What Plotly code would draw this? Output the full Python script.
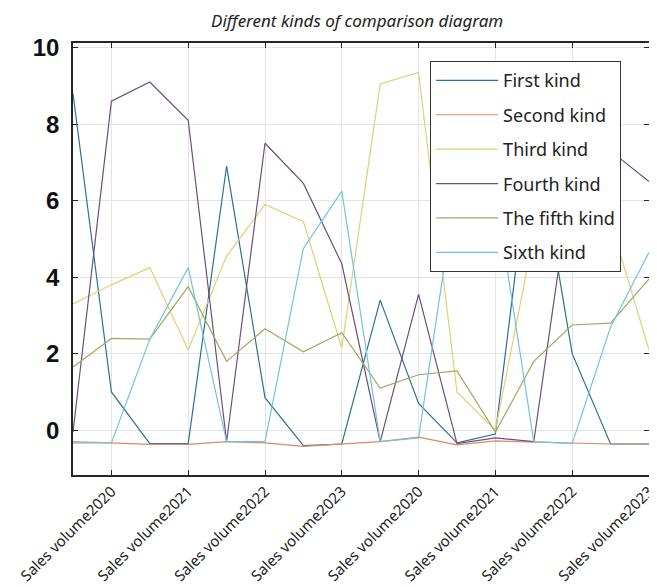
import plotly.graph_objects as go

x_points = list(range(1, 17))
tick_positions = [2, 4, 6, 8, 10, 12, 14, 16]
tick_labels = ["Sales volume2020", "Sales volume2021", "Sales volume2022", "Sales volume2023",
               "Sales volume2020", "Sales volume2021", "Sales volume2022", "Sales volume2023"]

series_names = ["First kind", "Second kind", "Third kind", "Fourth kind", "The fifth kind", "Sixth kind"]

first_kind = [8.8, 1.0, -0.35, -0.35, 6.9, 0.85, -0.4, -0.36, 3.4, 0.7, -0.33, -0.1, 8.0, 2.0, -0.36, -0.36]
second_kind = [-0.33, -0.33, -0.37, -0.37, -0.3, -0.33, -0.42, -0.36, -0.3, -0.18, -0.38, -0.28, -0.31, -0.33, -0.36, -0.36]
third_kind = [3.3, 3.8, 4.25, 2.1, 4.55, 5.9, 5.45, 2.15, 9.05, 9.35, 1.0, 0.0, 5.1, 5.8, 5.45, 2.1]
fourth_kind = [-0.05, 8.6, 9.1, 8.1, -0.3, 7.5, 6.45, 4.35, -0.3, 3.55, -0.35, -0.2, -0.3, 6.7, 7.3, 6.5]
fifth_kind = [1.65, 2.4, 2.38, 3.75, 1.8, 2.65, 2.05, 2.55, 1.1, 1.45, 1.55, -0.05, 1.8, 2.75, 2.8, 3.95]
sixth_kind = [-0.3, -0.33, 2.38, 4.25, -0.3, -0.3, 4.75, 6.25, -0.3, -0.2, 6.5, 6.2, -0.3, -0.35, 2.7, 4.65]

all_series = [first_kind, second_kind, third_kind, fourth_kind, fifth_kind, sixth_kind]
colors = ["#2a7294", "#d98a66", "#e2d070", "#6f4d80", "#9caa62", "#70c4de"]

hand_font = "Segoe Print, Comic Sans MS, Noto Sans, sans-serif"

fig = go.Figure()
for name, vals, col in zip(series_names, all_series, colors):
    fig.add_trace(go.Scatter(
        x=x_points, y=vals, mode="lines", name=name,
        line=dict(color=col, width=1.2), legendgroup=name,
    ))

# page body has an 8px margin, so the figure is sized 649x579
fig.update_layout(
    width=649, height=579,
    margin=dict(l=65, r=8, t=35, b=112, autoexpand=False),
    paper_bgcolor="white", plot_bgcolor="white",
    title=dict(text="Different kinds of comparison diagram", x=0.538, xanchor="center",
               y=0.978, yref="container", yanchor="middle",
               font=dict(family=hand_font, size=17, color="#222222", style="italic")),
    legend=dict(x=0.62, y=0.958, xanchor="left", yanchor="top",
                bgcolor="white", bordercolor="#333333", borderwidth=1,
                font=dict(family=hand_font, size=18, color="#222222"),
                tracegroupgap=8, itemwidth=62),
    showlegend=True,
)

fig.update_xaxes(
    range=[0.9999, 16.0005], tickmode="array", tickvals=tick_positions, ticktext=tick_labels,
    tickangle=-45, tickfont=dict(family=hand_font, size=15, color="#222222"),
    showgrid=True, gridcolor="#e4e4e4", gridwidth=1, automargin=False,
    ticklabeloverflow="allow",
    showline=True, linecolor="#262626", linewidth=1.5, mirror="ticks",
    ticks="inside", ticklen=5, tickcolor="#262626", zeroline=False,
)
fig.update_yaxes(
    range=[-1.17, 10.12], tickvals=[0, 2, 4, 6, 8, 10],
    tickfont=dict(family="Liberation Sans, Arial, sans-serif", size=24, color="#111111", weight="bold"),
    showgrid=True, gridcolor="#e4e4e4", gridwidth=1, automargin=False,
    showline=True, linecolor="#262626", linewidth=1.5, mirror="ticks",
    ticks="inside", ticklen=5, tickcolor="#262626", zeroline=False,
    ticklabelstandoff=7,
)

fig.write_html("out.html")
